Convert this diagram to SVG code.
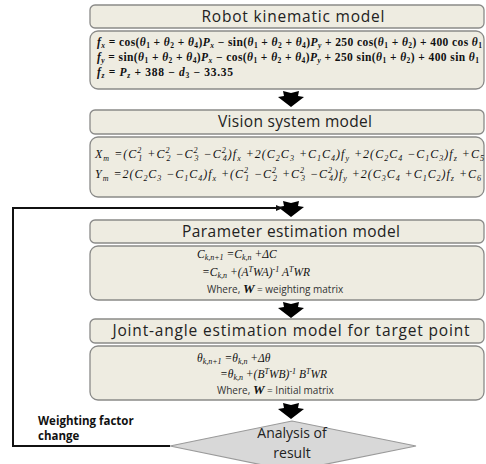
<svg xmlns="http://www.w3.org/2000/svg" width="486" height="464" viewBox="0 0 486 464">
<defs>
<style>
.hd{fill:#eeece1;stroke:#8a8a88;stroke-width:1.3}
.bd{fill:#eeece1;stroke:#8a8a88;stroke-width:1.3}
.ht{font-family:"Open Sans","Noto Sans",sans-serif;font-size:15.5px;fill:#222;text-anchor:middle}
.dt{font-family:"Open Sans","Noto Sans",sans-serif;font-size:14px;fill:#222;text-anchor:middle}
.m{font-family:"Liberation Serif",serif;font-size:12px;fill:#111}
.m1{font-family:"Liberation Serif",serif;font-size:11.5px;font-weight:bold;fill:#111}
.m2{font-family:"Liberation Serif",serif;font-size:11.5px;fill:#111}
.i{font-style:italic}
.s{font-size:8px}
.s1{font-size:7.5px}
.w{font-family:"Open Sans","Noto Sans",sans-serif;font-size:10px;fill:#333}
.wb{font-family:"Liberation Serif",serif;font-size:13px;font-weight:bold;font-style:italic;fill:#111}
.lbl{font-family:"Open Sans","Noto Sans",sans-serif;font-size:11.5px;font-weight:bold;fill:#111}
.conn{fill:none;stroke:#111;stroke-width:2}
</style>
<path id="arr" d="M-8,0 L0,2 L8,0 L7,5 L13,6 L0,16 L-13,6 L-7,5 Z" fill="#000"/>
<marker id="ah" markerWidth="8" markerHeight="8" refX="6" refY="4" orient="auto" markerUnits="userSpaceOnUse"><path d="M0,1 L7,4 L0,7 Z" fill="#111"/></marker>
</defs>
<rect width="486" height="464" fill="#fff"/>

<g id="robot-kinematic-model">
<rect class="hd" x="90" y="5" width="394" height="23" rx="5"/>
<text class="ht" x="293" y="22" textLength="183">Robot kinematic model</text>
<rect class="bd" x="90" y="31" width="394" height="58" rx="8"/>
<text class="m1" x="97" y="46" textLength="385"><tspan class="i">f</tspan><tspan class="s1 i" dy="2">x</tspan><tspan dy="-2"> = cos(</tspan><tspan class="i">θ</tspan><tspan class="s1" dy="2">1</tspan><tspan dy="-2"> + </tspan><tspan class="i">θ</tspan><tspan class="s1" dy="2">2</tspan><tspan dy="-2"> + </tspan><tspan class="i">θ</tspan><tspan class="s1" dy="2">4</tspan><tspan dy="-2">)</tspan><tspan class="i">P</tspan><tspan class="s1 i" dy="2">x</tspan><tspan dy="-2"> − sin(</tspan><tspan class="i">θ</tspan><tspan class="s1" dy="2">1</tspan><tspan dy="-2"> + </tspan><tspan class="i">θ</tspan><tspan class="s1" dy="2">2</tspan><tspan dy="-2"> + </tspan><tspan class="i">θ</tspan><tspan class="s1" dy="2">4</tspan><tspan dy="-2">)</tspan><tspan class="i">P</tspan><tspan class="s1 i" dy="2">y</tspan><tspan dy="-2"> + 250 cos(</tspan><tspan class="i">θ</tspan><tspan class="s1" dy="2">1</tspan><tspan dy="-2"> + </tspan><tspan class="i">θ</tspan><tspan class="s1" dy="2">2</tspan><tspan dy="-2">) + 400 cos </tspan><tspan class="i">θ</tspan><tspan class="s1" dy="2">1</tspan></text>
<text class="m1" x="97" y="61" textLength="382"><tspan class="i">f</tspan><tspan class="s1 i" dy="2">y</tspan><tspan dy="-2"> = sin(</tspan><tspan class="i">θ</tspan><tspan class="s1" dy="2">1</tspan><tspan dy="-2"> + </tspan><tspan class="i">θ</tspan><tspan class="s1" dy="2">2</tspan><tspan dy="-2"> + </tspan><tspan class="i">θ</tspan><tspan class="s1" dy="2">4</tspan><tspan dy="-2">)</tspan><tspan class="i">P</tspan><tspan class="s1 i" dy="2">x</tspan><tspan dy="-2"> − cos(</tspan><tspan class="i">θ</tspan><tspan class="s1" dy="2">1</tspan><tspan dy="-2"> + </tspan><tspan class="i">θ</tspan><tspan class="s1" dy="2">2</tspan><tspan dy="-2"> + </tspan><tspan class="i">θ</tspan><tspan class="s1" dy="2">4</tspan><tspan dy="-2">)</tspan><tspan class="i">P</tspan><tspan class="s1 i" dy="2">y</tspan><tspan dy="-2"> + 250 sin(</tspan><tspan class="i">θ</tspan><tspan class="s1" dy="2">1</tspan><tspan dy="-2"> + </tspan><tspan class="i">θ</tspan><tspan class="s1" dy="2">2</tspan><tspan dy="-2">) + 400 sin </tspan><tspan class="i">θ</tspan><tspan class="s1" dy="2">1</tspan></text>
<text class="m1" x="97" y="76" textLength="136"><tspan class="i">f</tspan><tspan class="s1 i" dy="2">z</tspan><tspan dy="-2"> = </tspan><tspan class="i">P</tspan><tspan class="s1 i" dy="2">z</tspan><tspan dy="-2"> + 388 − </tspan><tspan class="i">d</tspan><tspan class="s1" dy="2">3</tspan><tspan dy="-2"> − 33.35</tspan></text>
</g>

<g id="vision-system-model">
<rect class="hd" x="90" y="110" width="394" height="24" rx="5"/>
<text class="ht" x="295" y="127" textLength="154">Vision system model</text>
<rect class="bd" x="90" y="137" width="394" height="60" rx="8"/>
<text class="m i" x="95" y="158" textLength="389" font-size="12.5">X<tspan class="s" dy="3">m</tspan><tspan dy="-3"> =(C</tspan><tspan class="s" dy="-5">2</tspan><tspan class="s" dx="-4" dy="8">1</tspan><tspan dy="-3"> +C</tspan><tspan class="s" dy="-5">2</tspan><tspan class="s" dx="-4" dy="8">2</tspan><tspan dy="-3"> −C</tspan><tspan class="s" dy="-5">2</tspan><tspan class="s" dx="-4" dy="8">3</tspan><tspan dy="-3"> −C</tspan><tspan class="s" dy="-5">2</tspan><tspan class="s" dx="-4" dy="8">4</tspan><tspan dy="-3">)f</tspan><tspan class="s" dy="3">x</tspan><tspan dy="-3"> +2(C</tspan><tspan class="s" dy="3">2</tspan><tspan dy="-3">C</tspan><tspan class="s" dy="3">3</tspan><tspan dy="-3"> +C</tspan><tspan class="s" dy="3">1</tspan><tspan dy="-3">C</tspan><tspan class="s" dy="3">4</tspan><tspan dy="-3">)f</tspan><tspan class="s" dy="3">y</tspan><tspan dy="-3"> +2(C</tspan><tspan class="s" dy="3">2</tspan><tspan dy="-3">C</tspan><tspan class="s" dy="3">4</tspan><tspan dy="-3"> −C</tspan><tspan class="s" dy="3">1</tspan><tspan dy="-3">C</tspan><tspan class="s" dy="3">3</tspan><tspan dy="-3">)f</tspan><tspan class="s" dy="3">z</tspan><tspan dy="-3"> +C</tspan><tspan class="s" dy="3">5</tspan></text>
<text class="m i" x="95" y="178" textLength="386" font-size="12.5">Y<tspan class="s" dy="3">m</tspan><tspan dy="-3"> =2(C</tspan><tspan class="s" dy="3">2</tspan><tspan dy="-3">C</tspan><tspan class="s" dy="3">3</tspan><tspan dy="-3"> −C</tspan><tspan class="s" dy="3">1</tspan><tspan dy="-3">C</tspan><tspan class="s" dy="3">4</tspan><tspan dy="-3">)f</tspan><tspan class="s" dy="3">x</tspan><tspan dy="-3"> +(C</tspan><tspan class="s" dy="-5">2</tspan><tspan class="s" dx="-4" dy="8">1</tspan><tspan dy="-3"> −C</tspan><tspan class="s" dy="-5">2</tspan><tspan class="s" dx="-4" dy="8">2</tspan><tspan dy="-3"> +C</tspan><tspan class="s" dy="-5">2</tspan><tspan class="s" dx="-4" dy="8">3</tspan><tspan dy="-3"> −C</tspan><tspan class="s" dy="-5">2</tspan><tspan class="s" dx="-4" dy="8">4</tspan><tspan dy="-3">)f</tspan><tspan class="s" dy="3">y</tspan><tspan dy="-3"> +2(C</tspan><tspan class="s" dy="3">3</tspan><tspan dy="-3">C</tspan><tspan class="s" dy="3">4</tspan><tspan dy="-3"> +C</tspan><tspan class="s" dy="3">1</tspan><tspan dy="-3">C</tspan><tspan class="s" dy="3">2</tspan><tspan dy="-3">)f</tspan><tspan class="s" dy="3">z</tspan><tspan dy="-3"> +C</tspan><tspan class="s" dy="3">6</tspan></text>
</g>

<g id="parameter-estimation-model">
<rect class="hd" x="90" y="220" width="394" height="23" rx="5"/>
<text class="ht" x="291" y="237" textLength="218">Parameter estimation model</text>
<rect class="bd" x="90" y="246" width="394" height="54" rx="8"/>
<text class="m2 i" x="197" y="258">C<tspan class="s" dy="2">k,n+1</tspan><tspan dy="-2"> =C</tspan><tspan class="s" dy="2">k,n</tspan><tspan dy="-2"> +ΔC</tspan></text>
<text class="m2 i" x="202" y="276">=C<tspan class="s" dy="2">k,n</tspan><tspan dy="-2"> +(A</tspan><tspan class="s" dy="-4">T</tspan><tspan dy="4">WA)</tspan><tspan class="s" dy="-4">-1</tspan><tspan dy="4"> A</tspan><tspan class="s" dy="-4">T</tspan><tspan dy="4">WR</tspan></text>
<text x="207" y="293"><tspan class="w">Where,  </tspan><tspan class="wb">W</tspan><tspan class="w"> = weighting matrix</tspan></text>
</g>

<g id="joint-angle-estimation-model">
<rect class="hd" x="90" y="319" width="394" height="24" rx="5"/>
<text class="ht" x="291" y="336" textLength="357">Joint-angle estimation model for target point</text>
<rect class="bd" x="90" y="346" width="394" height="54" rx="8"/>
<text class="m2 i" x="197" y="362">θ<tspan class="s" dy="2">k,n+1</tspan><tspan dy="-2"> =θ</tspan><tspan class="s" dy="2">k,n</tspan><tspan dy="-2"> +Δθ</tspan></text>
<text class="m2 i" x="220" y="378">=θ<tspan class="s" dy="2">k,n</tspan><tspan dy="-2"> +(B</tspan><tspan class="s" dy="-4">T</tspan><tspan dy="4">WB)</tspan><tspan class="s" dy="-4">-1</tspan><tspan dy="4"> B</tspan><tspan class="s" dy="-4">T</tspan><tspan dy="4">WR</tspan></text>
<text x="217" y="394"><tspan class="w">Where,  </tspan><tspan class="wb">W</tspan><tspan class="w"> = Initial matrix</tspan></text>
</g>

<g id="analysis-of-result">
<polygon points="170,446 292,421 416,446 292,471" fill="#d8d8d8" stroke="#9a9a9a" stroke-width="1.2"/>
<text class="dt" x="292" y="438">Analysis of</text>
<text class="dt" x="292" y="458">result</text>
</g>

<g id="connectors">
<use href="#arr" x="291" y="91"/>
<use href="#arr" x="291" y="201"/>
<use href="#arr" x="291" y="302"/>
<use href="#arr" x="291" y="403"/>
<polyline class="conn" points="170,446 13,446 13,208 282,208" marker-end="url(#ah)"/>
<text class="lbl" x="38" y="425">Weighting factor</text>
<text class="lbl" x="38" y="440">change</text>
</g>
</svg>
